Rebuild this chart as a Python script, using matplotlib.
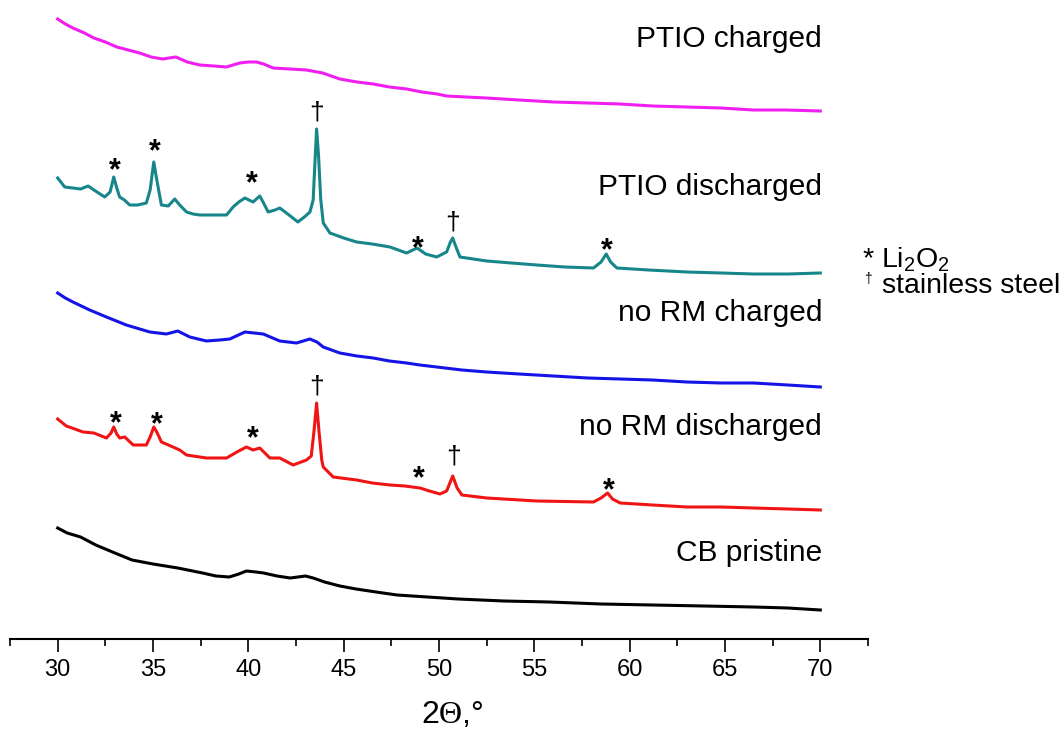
import matplotlib
matplotlib.use("Agg")
import matplotlib.pyplot as plt
from matplotlib.ticker import MultipleLocator

plt.rcParams['font.family'] = ['Liberation Sans', 'DejaVu Sans']
plt.rcParams['mathtext.fontset'] = 'custom'
plt.rcParams['mathtext.rm'] = 'Liberation Sans'
plt.rcParams['mathtext.tt'] = 'Liberation Serif'
plt.rcParams['mathtext.default'] = 'regular'

# ---------------- data (2Theta, intensity a.u. incl. stacking offset) ----------------
ptio_charged = [(30, 631), (30.4, 626), (30.8, 622), (31.4, 617), (31.9, 612), (32.5, 608),
                (33.1, 603), (33.7, 600), (34.3, 597), (34.9, 593), (35.5, 591), (36.2, 593),
                (36.8, 588), (37.45, 585), (38.2, 584), (38.85, 583), (39.55, 587), (40.0, 588),
                (40.43, 588), (40.8, 586), (41.3, 582), (42.2, 581), (43.05, 580), (43.9, 577),
                (44.8, 571), (45.7, 568), (46.55, 566), (47.4, 563), (48.3, 561), (49.1, 558),
                (49.9, 556), (50.4, 554), (51.4, 553), (52.5, 552), (54.2, 550), (56.0, 548),
                (57.8, 547), (59.5, 546), (61.2, 544), (63.0, 543), (64.8, 542), (66.5, 540),
                (68.2, 540), (70, 539)]

ptio_discharged = [(30, 472), (30.37, 463), (30.8, 462), (31.2, 461), (31.6, 464), (31.9, 460),
                   (32.47, 453), (32.75, 458), (32.94, 473), (33.1, 462), (33.25, 453), (33.5, 450),
                   (33.78, 445), (34.2, 445), (34.65, 447), (34.85, 460), (35.04, 488), (35.2, 470),
                   (35.44, 445), (35.8, 444), (36.14, 451), (36.4, 445), (36.76, 438), (37.1, 436),
                   (37.45, 435), (38.2, 435), (38.86, 435), (39.2, 443), (39.5, 448), (39.82, 452),
                   (40.25, 448), (40.6, 454), (40.8, 447), (41.04, 438), (41.4, 440), (41.65, 442),
                   (42.0, 437), (42.6, 428), (43.0, 434), (43.23, 438), (43.4, 450), (43.5, 490),
                   (43.58, 521), (43.68, 495), (43.8, 450), (43.93, 427), (44.28, 417), (45.0, 412),
                   (45.68, 408), (46.5, 406), (47.43, 403), (48.3, 397), (48.85, 402), (49.3, 396),
                   (49.88, 393), (50.4, 398), (50.6, 408), (50.72, 412), (50.85, 405), (51.1, 393),
                   (51.8, 391), (52.5, 389), (53.8, 387), (55.13, 385), (56.6, 383), (58.1, 382),
                   (58.5, 388), (58.77, 396), (59.0, 388), (59.33, 382), (61.0, 380), (63.0, 378),
                   (64.8, 377), (66.5, 376), (68.3, 376), (70, 377)]

norm_charged = [(30, 357), (30.4, 352), (30.8, 348), (31.68, 340), (32.56, 333), (33.6, 325),
                (34.83, 318), (35.7, 316), (36.3, 319), (36.93, 313), (37.8, 309), (38.5, 310),
                (39.03, 311), (39.82, 318), (40.3, 317), (40.78, 316), (41.65, 309), (42.53, 307),
                (43.23, 311), (43.6, 308), (43.93, 303), (44.8, 297), (45.7, 294), (46.55, 292),
                (47.4, 289), (48.3, 287), (49.0, 285), (49.88, 283), (51.2, 280), (52.5, 278),
                (54.2, 276), (56.0, 274), (57.8, 272), (59.5, 271), (61.2, 270), (63.0, 268),
                (64.8, 267), (66.5, 267), (68.3, 265), (70, 263)]

norm_discharged = [(30, 231), (30.45, 224), (30.9, 221), (31.33, 218), (31.9, 217), (32.56, 212),
                   (32.8, 217), (32.94, 223), (33.1, 216), (33.25, 212), (33.52, 213), (33.96, 205),
                   (34.65, 205), (34.85, 213), (35.04, 223), (35.2, 218), (35.44, 208), (36.05, 203),
                   (36.4, 200), (36.76, 195), (37.8, 192), (38.86, 192), (39.4, 198), (39.9, 203),
                   (40.25, 200), (40.6, 202), (41.13, 192), (41.65, 192), (42.35, 185), (43.05, 190),
                   (43.3, 194), (43.45, 220), (43.58, 247), (43.7, 220), (43.85, 190), (43.93, 183),
                   (44.45, 173), (45.68, 170), (46.5, 167), (47.43, 165), (48.2, 164), (49.0, 162),
                   (49.5, 159), (50.05, 156), (50.4, 159), (50.72, 174), (50.95, 162), (51.2, 155),
                   (52.5, 152), (55.13, 149), (58.1, 148), (58.5, 152), (58.84, 157), (59.1, 151),
                   (59.5, 147), (61.2, 145), (63.0, 143), (64.8, 143), (66.5, 142), (68.3, 141),
                   (70, 140)]

cb_pristine = [(30, 122), (30.5, 117), (31.2, 113), (32.0, 105), (33.0, 97), (33.9, 90),
               (35.0, 86), (36.3, 82), (37.6, 77), (38.3, 74), (39.0, 73), (39.5, 76),
               (39.9, 79), (40.4, 78), (40.8, 77), (41.5, 74), (42.2, 72), (43.0, 74),
               (43.4, 72), (44.0, 68), (44.8, 64), (45.65, 61), (46.7, 58), (47.8, 55),
               (49.4, 53), (51.0, 51), (53.4, 49), (55.8, 48), (58.5, 46), (61.2, 45),
               (63.9, 44), (66.5, 43), (68.3, 42), (70, 40)]

series_names = ["PTIO charged", "PTIO discharged", "no RM charged", "no RM discharged", "CB pristine"]
series_data = [ptio_charged, ptio_discharged, norm_charged, norm_discharged, cb_pristine]
series_colors = ["#f01ef0", "#17868a", "#1414e6", "#f01414", "#000000"]
label_baselines = [603, 455, 329, 215, 89]

# peak markers: (2theta, height of marker centre)
li2o2_marks = [(33.0, 488), (35.09, 507), (40.2, 475), (48.9, 410), (58.8, 408),
               (33.04, 235), (35.18, 234), (40.25, 220), (48.95, 180), (58.9, 168)]
steel_marks = [(43.6, 537), (50.7, 427), (43.58, 263), (50.75, 193)]

x_major = [30, 35, 40, 45, 50, 55, 60, 65, 70]

# ---------------- figure ----------------
W, H = 1064, 729
fig = plt.figure(figsize=(W / 100, H / 100), dpi=100)
ax = fig.add_axes([10 / W, (H - 639) / H, (868 - 10) / W, 639 / H])
ax.set_xlim(27.5, 72.5)
ax.set_ylim(11, 650)

for data, col in zip(series_data, series_colors):
    xs = [p[0] for p in data]
    ys = [p[1] for p in data]
    ax.plot(xs, ys, color=col, lw=2.2, solid_joinstyle='round')

for name, yb in zip(series_names, label_baselines):
    ax.text(70.1, yb, name, ha='right', va='baseline', fontsize=21.5)

for x, y in li2o2_marks:
    ax.annotate("*", (x, y), xytext=(0, -12.5), textcoords='offset points',
                ha='center', va='baseline', fontsize=22, fontweight='bold')
for x, y in steel_marks:
    ax.annotate("†", (x, y), xytext=(0, -5), textcoords='offset points',
                ha='center', va='baseline', fontsize=19)

# key
def px2x(px):
    return 27.5 + (px - 10) * 45 / 858

ax.text(px2x(862), 383, "* Li$_2$O$_2$", ha='left', va='baseline', fontsize=20.5, clip_on=False)
ax.text(px2x(864), 367, "†", ha='left', va='baseline', fontsize=10, clip_on=False)
ax.text(px2x(882), 357, "stainless steel", ha='left', va='baseline', fontsize=20.5, clip_on=False)

# axes styling
for s in ['top', 'left', 'right']:
    ax.spines[s].set_visible(False)
ax.spines['bottom'].set_linewidth(1.5)
ax.set_yticks([])
ax.set_xticks(x_major)
ax.xaxis.set_minor_locator(MultipleLocator(2.5))
ax.tick_params(axis='x', which='major', direction='out', length=9.5, width=1.2,
               labelsize=17, pad=5)
ax.tick_params(axis='x', which='minor', direction='out', length=5, width=1.2)

fig.text(452.5 / W, (H - 723) / H, r"2$\mathtt{Θ}$,°", ha='center', va='baseline', fontsize=23)

fig.savefig("out.png", dpi=100)
